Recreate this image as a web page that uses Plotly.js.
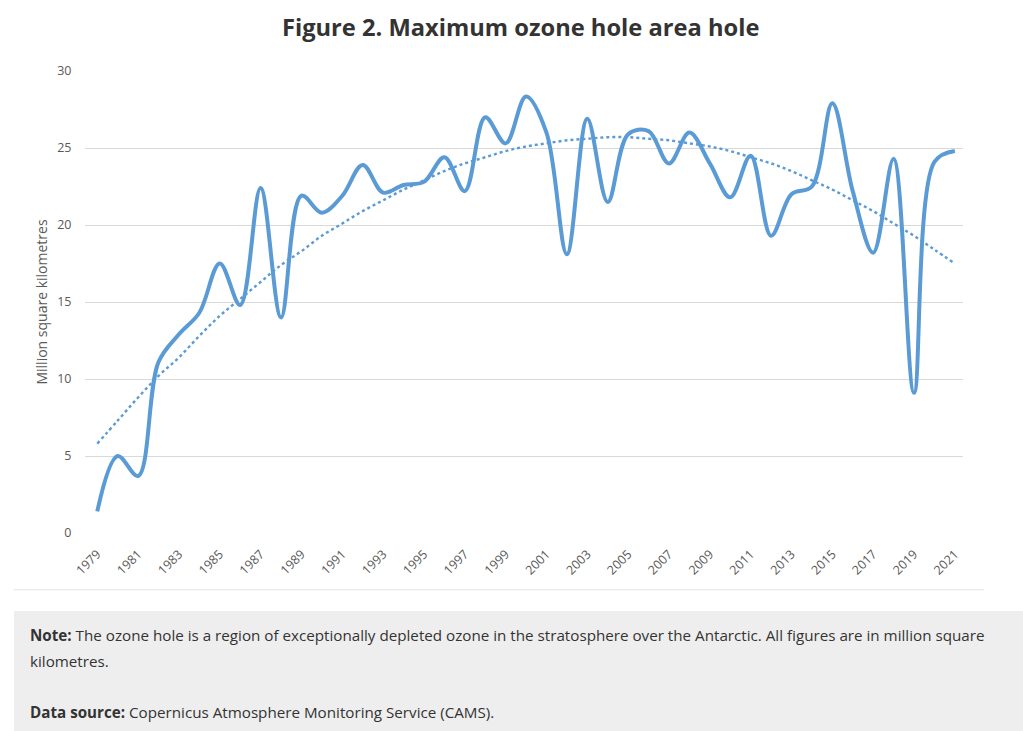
<!DOCTYPE html>
<html>
<head>
<meta charset="utf-8">
<script src="https://cdn.plot.ly/plotly-3.0.1.min.js"></script>
<style>
  html, body { margin: 0; padding: 0; background: #ffffff; width: 1023px; height: 731px; overflow: hidden; }
  #chart { position: absolute; left: 0; top: 0; width: 1023px; height: 611px; }
  #note { position: absolute; left: 14px; top: 611px; width: 1009px; height: 120px; background: #eeeeee;
          font-family: "Open Sans", sans-serif; color: #333333; font-size: 15.2px; }
  .ln { position: absolute; left: 16px; white-space: nowrap; }
</style>
</head>
<body>
<div id="chart"></div>
<div id="note">
  <div class="ln" style="top:14px;"><b>Note:</b> The ozone hole is a region of exceptionally depleted ozone in the stratosphere over the Antarctic. All figures are in million square</div>
  <div class="ln" style="top:40px;">kilometres.</div>
  <div class="ln" style="top:91px;"><b>Data source:</b> Copernicus Atmosphere Monitoring Service (CAMS).</div>
</div>
<script>
const years = [1979,1980,1981,1982,1983,1984,1985,1986,1987,1988,1989,1990,1991,1992,1993,1994,1995,1996,1997,1998,1999,2000,
               2001,2002,2003,2004,2005,2006,2007,2008,2009,2010,2011,2012,2013,2014,2015,2016,2017,2018,2019,2020,2021];
const holeArea = [1.4,5.0,3.7,11.1,12.9,14.3,17.5,14.8,22.4,14.0,21.9,20.8,21.9,23.9,22.1,22.6,22.8,24.4,22.2,27.0,25.3,28.35,
                  26.0,18.1,26.9,21.5,25.9,26.1,24.0,26.0,24.0,21.8,24.5,19.3,22.0,22.5,27.9,22.2,18.2,24.3,9.1,24.1,24.8];
const trendArea = [5.8,7.3,8.8,10.2,11.4,12.8,14.1,15.2,16.3,17.4,18.3,19.3,20.1,20.9,21.6,22.3,22.9,23.5,24.0,24.4,24.8,25.1,
                   25.3,25.5,25.6,25.7,25.7,25.6,25.5,25.3,25.1,24.8,24.4,24.0,23.5,22.9,22.3,21.6,20.9,20.1,19.3,18.4,17.5];
const yTicks = [0,5,10,15,20,25,30];
const xTicks = [1979,1981,1983,1985,1987,1989,1991,1993,1995,1997,1999,2001,2003,2005,2007,2009,2011,2013,2015,2017,2019,2021];

const traces = [
  { x: years, y: trendArea, type: 'scatter', mode: 'lines', name: 'Trend',
    line: { color: '#5B9BD5', width: 2.4, dash: 'dot', shape: 'spline' }, hoverinfo: 'skip' },
  { x: years, y: holeArea, type: 'scatter', mode: 'lines', name: 'Maximum ozone hole area',
    line: { color: '#5B9BD5', width: 4, shape: 'spline', smoothing: 1 } }
];

const layout = {
  width: 1023, height: 611,
  margin: { l: 85, r: 60, t: 71, b: 78 },
  paper_bgcolor: '#ffffff', plot_bgcolor: '#ffffff',
  showlegend: false,
  font: { family: '"Open Sans", sans-serif', color: '#595959' },
  title: { text: '<b>Figure 2. Maximum ozone hole area hole</b>', x: 0.509, xanchor: 'center', y: 0.954, yanchor: 'middle',
           font: { family: '"Open Sans", sans-serif', size: 23.7, color: '#333333' } },
  xaxis: {
    range: [1978.4, 2021.4], tickmode: 'array', tickvals: xTicks, ticktext: xTicks.map(String),
    tickangle: -45, tickfont: { size: 12.5, color: '#595959' },
    showgrid: false, zeroline: false, showline: false,
    ticks: 'outside', ticklen: 8, tickcolor: 'rgba(0,0,0,0)', fixedrange: true
  },
  yaxis: {
    range: [0, 30], tickmode: 'array', tickvals: yTicks, ticktext: yTicks.map(String),
    tickfont: { size: 12.5, color: '#595959' },
    showgrid: true, gridcolor: '#d9d9d9', gridwidth: 1, zeroline: false, showline: false,
    ticks: 'outside', ticklen: 10, tickcolor: 'rgba(0,0,0,0)',
    title: { text: 'Million square kilometres', font: { size: 14, color: '#595959' }, standoff: 6 },
    fixedrange: true
  },
  shapes: [
    { type: 'line', xref: 'paper', yref: 'paper', x0: -0.0812, x1: 1.024, y0: -0.123, y1: -0.123,
      line: { color: '#e3e3e3', width: 1 } }
  ]
};

Plotly.newPlot('chart', traces, layout, { displayModeBar: false, staticPlot: true });
</script>
</body>
</html>
